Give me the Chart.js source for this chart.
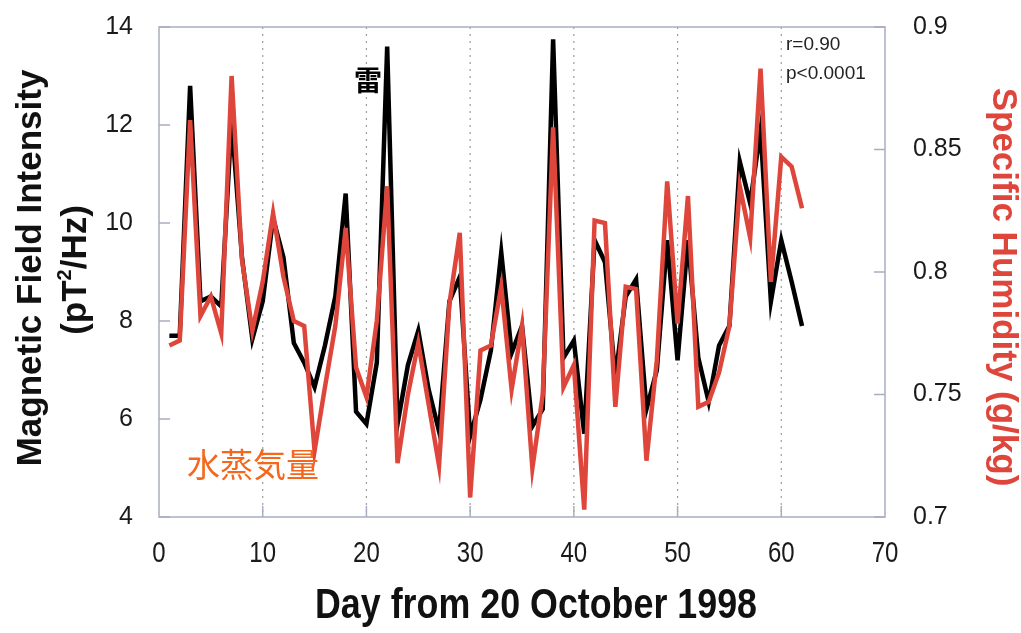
<!DOCTYPE html>
<html>
<head>
<meta charset="utf-8">
<script src="https://cdn.jsdelivr.net/npm/chart.js@4.4.1/dist/chart.umd.min.js"></script>
<style>
  html, body { margin: 0; padding: 0; background: #fff; }
  canvas { display: block; }
</style>
</head>
<body>
<canvas id="chart" width="1021" height="633"></canvas>
<script>
// day index from 20 October 1998
const days = [1, 2, 3, 4, 5, 6, 7, 8, 9, 10, 11, 12, 13, 14, 15, 16, 17, 18, 19, 20,
  21, 22, 23, 24, 25, 26, 27, 28, 29, 30, 31, 32, 33, 34, 35, 36, 37, 38, 39, 40,
  41, 42, 43, 44, 45, 46, 47, 48, 49, 50, 51, 52, 53, 54, 55, 56, 57, 58, 59, 60, 61, 62];

// magnetic field intensity (pT^2/Hz), black line
const magField = [7.7, 7.7, 12.8, 8.4, 8.5, 8.3, 12.1, 9.3, 7.63, 8.4,
  10.1, 9.3, 7.55, 7.15, 6.65, 7.5, 8.5, 10.6, 6.15, 5.9,
  7.15, 13.6, 5.9, 7.1, 7.8, 6.6, 5.75, 8.4, 8.9, 5.65,
  6.4, 7.4, 9.4, 7.35, 7.9, 5.85, 6.2, 13.75, 7.25, 7.6,
  5.7, 9.65, 9.2, 6.85, 8.5, 8.85, 6.2, 7.0, 9.65, 7.2,
  9.65, 7.25, 6.35, 7.5, 7.9, 11.25, 10.4, 11.9, 8.4, 9.65, 8.8, 7.9];

// specific humidity (g/kg), red line
const humidity = [0.770, 0.772, 0.862, 0.782, 0.790, 0.775, 0.880, 0.805, 0.776, 0.796,
  0.824, 0.798, 0.780, 0.778, 0.727, 0.753, 0.778, 0.818, 0.761, 0.749,
  0.780, 0.835, 0.722, 0.750, 0.771, 0.746, 0.721, 0.787, 0.816, 0.708,
  0.768, 0.770, 0.794, 0.752, 0.778, 0.720, 0.750, 0.859, 0.753, 0.762,
  0.703, 0.821, 0.820, 0.745, 0.794, 0.793, 0.723, 0.764, 0.837, 0.779,
  0.831, 0.745, 0.747, 0.759, 0.778, 0.835, 0.814, 0.883, 0.796, 0.847, 0.843, 0.826];

const xTicks = [0, 10, 20, 30, 40, 50, 60, 70];
const dottedDays = [10, 20, 30, 40, 50, 60];

const RED = '#de453b';
const FRAME = '#a8aebf';
const SANS = '"Liberation Sans", Arial, sans-serif';

// draw text squeezed horizontally (the original uses a narrow face)
function narrowText(ctx, text, x, y, squeeze) {
  ctx.save();
  ctx.translate(x, y);
  ctx.scale(squeeze, 1);
  ctx.fillText(text, 0, 0);
  ctx.restore();
}

const framePlugin = {
  id: 'frame',
  beforeDatasetsDraw(chart) {
    const { ctx, chartArea: a, scales } = chart;
    ctx.save();
    // dotted verticals
    ctx.strokeStyle = '#9c9c9c';
    ctx.lineWidth = 1.2;
    ctx.setLineDash([2, 5]);
    dottedDays.forEach(d => {
      const x = scales.x.getPixelForValue(d);
      ctx.beginPath();
      ctx.moveTo(x, a.top);
      ctx.lineTo(x, a.bottom);
      ctx.stroke();
    });
    ctx.setLineDash([]);
    // frame
    ctx.strokeStyle = FRAME;
    ctx.lineWidth = 1.5;
    ctx.strokeRect(a.left, a.top, a.right - a.left, a.bottom - a.top);
    // inward ticks
    ctx.beginPath();
    scales.y.ticks.forEach(t => {
      const y = scales.y.getPixelForValue(t.value);
      ctx.moveTo(a.left, y); ctx.lineTo(a.left + 11, y);
    });
    scales.y1.ticks.forEach(t => {
      const y = scales.y1.getPixelForValue(t.value);
      ctx.moveTo(a.right, y); ctx.lineTo(a.right - 11, y);
    });
    dottedDays.forEach(d => {
      const x = scales.x.getPixelForValue(d);
      ctx.moveTo(x, a.bottom); ctx.lineTo(x, a.bottom - 11);
    });
    ctx.stroke();
    ctx.restore();
  },
  afterDraw(chart) {
    const { ctx, chartArea: a, scales } = chart;
    ctx.save();
    ctx.textAlign = 'center';
    ctx.textBaseline = 'middle';

    // x tick labels, condensed
    ctx.fillStyle = '#1a1a1a';
    ctx.font = '30px ' + SANS;
    xTicks.forEach(v => {
      narrowText(ctx, String(v), scales.x.getPixelForValue(v), a.bottom + 37, 0.8);
    });

    // left axis title, two lines
    ctx.fillStyle = '#111';
    ctx.save();
    ctx.translate(31, 268);
    ctx.rotate(-Math.PI / 2);
    ctx.font = 'bold 35px ' + SANS;
    ctx.fillText('Magnetic Field Intensity', 0, 0);
    ctx.restore();
    ctx.save();
    ctx.translate(76, 270);
    ctx.rotate(-Math.PI / 2);
    const p1 = '(pT', p2 = '/Hz)';
    ctx.font = 'bold 35px ' + SANS;
    const w1 = ctx.measureText(p1).width, w2 = ctx.measureText(p2).width;
    ctx.font = 'bold 20px ' + SANS;
    const ws = ctx.measureText('2').width;
    const sx = -(w1 + w2 + ws) / 2;
    ctx.textAlign = 'left';
    ctx.font = 'bold 35px ' + SANS;
    ctx.fillText(p1, sx, 0);
    ctx.font = 'bold 20px ' + SANS;
    ctx.fillText('2', sx + w1, -11);
    ctx.font = 'bold 35px ' + SANS;
    ctx.fillText(p2, sx + w1 + ws, 0);
    ctx.restore();

    // right axis title
    ctx.save();
    ctx.translate(1003, 287);
    ctx.rotate(Math.PI / 2);
    ctx.fillStyle = RED;
    ctx.font = 'bold 35px ' + SANS;
    ctx.fillText('Specific Humidity (g/kg)', 0, 0);
    ctx.restore();

    // bottom title, condensed to the original width
    ctx.fillStyle = '#111';
    ctx.font = 'bold 42px ' + SANS;
    const tw = ctx.measureText('Day from 20 October 1998').width;
    narrowText(ctx, 'Day from 20 October 1998', 536, 606, 442 / tw);

    // stats
    ctx.textAlign = 'left';
    ctx.font = '19px ' + SANS;
    ctx.fillStyle = '#222';
    ctx.fillText('r=0.90', 786, 45);
    ctx.fillText('p<0.0001', 786, 74);

    // annotations
    ctx.textAlign = 'center';
    ctx.fillStyle = '#000';
    ctx.font = 'bold 28px "Noto Sans CJK JP", sans-serif';
    ctx.fillText('雷', 368, 80);
    ctx.fillStyle = '#f5671c';
    ctx.font = '33px "Noto Sans CJK JP", sans-serif';
    ctx.fillText('水蒸気量', 253, 464);
    ctx.restore();
  }
};

const tickFont = { family: SANS, size: 25 };
const noVPad = s => { s.paddingTop = 0; s.paddingBottom = 0; };

new Chart(document.getElementById('chart'), {
  type: 'line',
  data: {
    datasets: [
      {
        label: 'Specific Humidity',
        data: days.map((d, i) => ({ x: d, y: humidity[i] })),
        yAxisID: 'y1',
        borderColor: RED,
        borderWidth: 4.5,
        pointRadius: 0,
        tension: 0,
        order: 0
      },
      {
        label: 'Magnetic Field Intensity',
        data: days.map((d, i) => ({ x: d, y: magField[i] })),
        yAxisID: 'y',
        borderColor: '#000',
        borderWidth: 4.5,
        pointRadius: 0,
        tension: 0,
        order: 1
      }
    ]
  },
  options: {
    responsive: false,
    animation: false,
    devicePixelRatio: 1,
    layout: { padding: { top: 27, left: 0, right: 0, bottom: 0 } },
    plugins: { legend: { display: false }, tooltip: { enabled: false } },
    scales: {
      x: {
        type: 'linear',
        min: 0, max: 70,
        afterBuildTicks: s => { s.ticks = xTicks.map(v => ({ value: v })); },
        afterFit: s => { s.height = 116; s.paddingLeft = 0; s.paddingRight = 0; },
        grid: { display: false },
        border: { display: false },
        ticks: { display: false }
      },
      y: {
        position: 'left',
        min: 4, max: 14,
        afterFit: s => { s.width = 159; noVPad(s); },
        grid: { display: false },
        border: { display: false },
        ticks: { stepSize: 2, color: '#1a1a1a', padding: 18, font: tickFont }
      },
      y1: {
        position: 'right',
        min: 0.7, max: 0.9,
        afterFit: s => { s.width = 136; noVPad(s); },
        grid: { display: false },
        border: { display: false },
        ticks: {
          stepSize: 0.05, color: '#1a1a1a', padding: 20, font: tickFont,
          callback: v => String(Number(v.toFixed(2)))
        }
      }
    }
  },
  plugins: [framePlugin]
});
</script>
</body>
</html>
